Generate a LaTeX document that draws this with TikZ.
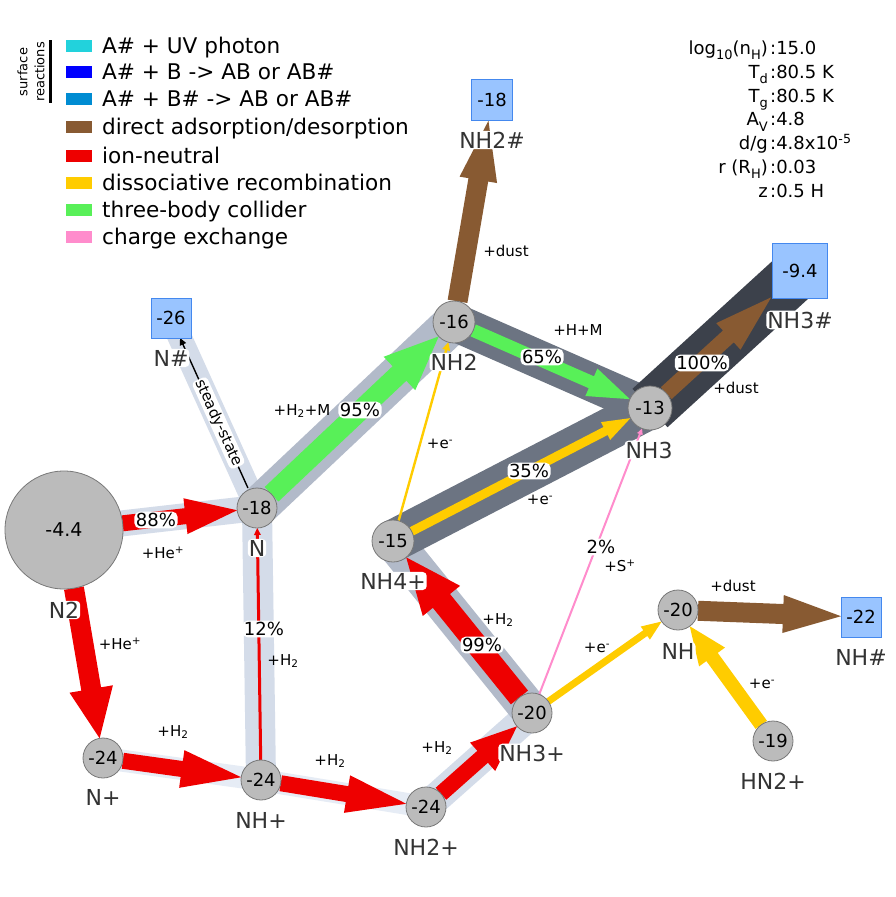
\documentclass[tikz,border=0pt]{standalone}
\usepackage{fontspec}
\setmainfont{DejaVu Sans}
\usetikzlibrary{calc}
\pgfdeclarelayer{paper}
\pgfdeclarelayer{bands}
\pgfdeclarelayer{arrows}
\pgfsetlayers{paper,bands,arrows,main}

\definecolor{cUV}{RGB}{34,210,220}
\definecolor{cAB}{RGB}{0,0,255}
\definecolor{cABs}{RGB}{0,140,210}
\definecolor{cdust}{RGB}{136,90,50}
\definecolor{cion}{RGB}{238,0,0}
\definecolor{cdr}{RGB}{255,204,0}
\definecolor{cthree}{RGB}{88,240,88}
\definecolor{cce}{RGB}{255,140,204}
\definecolor{bandA}{RGB}{230,236,245}
\definecolor{bandB}{RGB}{212,220,233}
\definecolor{bandC}{RGB}{178,186,201}
\definecolor{bandD}{RGB}{108,116,130}
\definecolor{bandE}{RGB}{60,65,75}
\definecolor{nodefill}{RGB}{187,187,187}
\definecolor{nodeline}{RGB}{120,120,120}
\definecolor{boxfill}{RGB}{153,196,255}
\definecolor{boxline}{RGB}{68,136,238}
\definecolor{labgray}{RGB}{51,51,51}

\newcommand\fsz[2]{\fontsize{#1}{#2}\selectfont}
\newcommand\lowsub[1]{\raisebox{-0.6ex}{\fontsize{13}{13}\selectfont #1}}

% from, to, start gap, end gap, shaft half width, head half width, head length, colour
\newcommand\farrow[8]{%
\fill[#8] let \p1=(#1.center), \p2=(#2.center),
  \n1={atan2(\y2-\y1,\x2-\x1)},
  \n2={veclen(\x2-\x1,\y2-\y1)},
  \n3={\n2-(#4)-(#7)},
  \n4={\n2-(#4)} in
  ({\x1+(#3)*cos(\n1)+(#5)*sin(\n1)},{\y1+(#3)*sin(\n1)-(#5)*cos(\n1)})
  -- ({\x1+\n3*cos(\n1)+(#5)*sin(\n1)},{\y1+\n3*sin(\n1)-(#5)*cos(\n1)})
  -- ({\x1+\n3*cos(\n1)+(#6)*sin(\n1)},{\y1+\n3*sin(\n1)-(#6)*cos(\n1)})
  -- ({\x1+\n4*cos(\n1)},{\y1+\n4*sin(\n1)})
  -- ({\x1+\n3*cos(\n1)-(#6)*sin(\n1)},{\y1+\n3*sin(\n1)+(#6)*cos(\n1)})
  -- ({\x1+\n3*cos(\n1)-(#5)*sin(\n1)},{\y1+\n3*sin(\n1)+(#5)*cos(\n1)})
  -- ({\x1+(#3)*cos(\n1)-(#5)*sin(\n1)},{\y1+(#3)*sin(\n1)+(#5)*cos(\n1)})
  -- cycle;}
\newcommand\fluxband[4]{\draw[draw=#3, line width=#4pt, line cap=butt] (#1.center) -- (#2.center);}

\tikzset{
  spec/.style={circle, draw=nodeline, fill=nodefill, line width=0.8pt, inner sep=0pt, font=\fsz{18}{21}},
  ice/.style={rectangle, draw=boxline, fill=boxfill, line width=1pt, inner sep=0pt, font=\fsz{18}{21}},
  splabel/.style={text=labgray, font=\fsz{22}{26}, fill=white, rounded corners=4pt, inner sep=1pt},
  pct/.style={font=\fsz{18}{22}, fill=white, rounded corners=5pt, inner sep=1.5pt},
  rxn/.style={font=\fsz{15}{18}, inner sep=1pt},
  legtext/.style={font=\fsz{21.6}{26}, anchor=base west, inner sep=0pt},
  patch/.style={minimum width=26pt, minimum height=12pt, inner sep=0pt},
  parl/.style={font=\fsz{18}{22}, anchor=base east, inner sep=0pt},
  parv/.style={font=\fsz{18}{22}, anchor=base west, inner sep=0pt},
}

\begin{document}
\begin{tikzpicture}[x=1pt,y=-1pt]
\useasboundingbox (0,0) rectangle (895,897);
\begin{pgfonlayer}{paper}
\fill[white] (0,0) rectangle (895,897);
\end{pgfonlayer}

% species
\node[spec, minimum size=118pt, font=\fsz{19}{22}] (n2) at (64,530) {-4.4};
\node[spec, minimum size=40pt] (nn) at (257,508) {-18};
\node[spec, minimum size=42pt] (nh2) at (454,322) {-16};
\node[spec, minimum size=44pt] (nh3) at (650,408) {-13};
\node[spec, minimum size=42pt] (nh4p) at (393,541) {-15};
\node[spec, minimum size=40pt] (nh3p) at (532,713) {-20};
\node[spec, minimum size=40pt] (nh) at (678,610) {-20};
\node[spec, minimum size=40pt] (hn2p) at (773,741) {-19};
\node[spec, minimum size=40pt] (np) at (103,758) {-24};
\node[spec, minimum size=40pt] (nhp) at (261,780) {-24};
\node[spec, minimum size=40pt] (nh2p) at (426,807) {-24};
\node[ice, minimum size=55pt] (nh3i) at (800,271) {-9.4};
\node[ice, minimum size=41pt] (nh2i) at (492,100) {-18};
\node[ice, minimum size=40pt] (ni) at (171,318) {-26};
\node[ice, minimum size=40pt] (nhi) at (861,617) {-22};

% flux bands
\begin{pgfonlayer}{bands}
\fluxband{ni}{nn}{bandB}{24}
\fluxband{nn}{nhp}{bandB}{30}
\fluxband{n2}{nn}{bandB}{26}
\fluxband{np}{nhp}{bandA}{22}
\fluxband{nhp}{nh2p}{bandA}{22}
\fluxband{nh2p}{nh3p}{bandB}{30}
\fluxband{nh3p}{nh4p}{bandC}{38}
\fluxband{nn}{nh2}{bandC}{40}
\fluxband{nh2}{nh3}{bandD}{38}
\fluxband{nh4p}{nh3}{bandD}{42}
\fluxband{nh3}{nh3i}{bandE}{52}
\end{pgfonlayer}

% reaction arrows
\begin{pgfonlayer}{arrows}
\farrow{n2}{nn}{59}{20}{8}{18}{52}{cion}
\farrow{n2}{np}{59}{20}{10}{22}{50}{cion}
\farrow{np}{nhp}{20}{20}{8}{19}{60}{cion}
\farrow{nhp}{nh2p}{20}{20}{8}{19}{60}{cion}
\farrow{nh2p}{nh3p}{20}{20}{8}{19}{46}{cion}
\farrow{nh3p}{nh4p}{20}{21}{11}{24}{56}{cion}
\farrow{nhp}{nn}{20}{20}{1.5}{3.5}{7}{cion}
\farrow{nn}{nh2}{20}{21}{10}{23}{54}{cthree}
\farrow{nh2}{nh3}{21}{22}{6.5}{15}{42}{cthree}
\farrow{nh4p}{nh3}{21}{22}{4.5}{10}{28}{cdr}
\farrow{nh4p}{nh2}{21}{21}{1.2}{4}{8}{cdr}
\farrow{nh3}{nh3i}{22}{39}{8}{18}{58}{cdust}
\farrow{nh2}{nh2i}{21}{21}{10}{19}{60}{cdust}
\farrow{nh3p}{nh3}{20}{22}{1}{3}{6}{cce}
\farrow{nh3p}{nh}{20}{20}{3.5}{8}{20}{cdr}
\farrow{hn2p}{nh}{20}{20}{7}{16}{38}{cdr}
\farrow{nh}{nhi}{20}{20}{10}{19}{58}{cdust}
\farrow{nn}{ni}{22}{22}{0.7}{3.5}{7}{black}
\end{pgfonlayer}

\path (ni) -- (nn) node[pos=0.56, sloped, font=\fsz{15}{18}, fill=white, rounded corners=4pt, inner sep=1pt] (ss) {steady-state};

% species names
\node[splabel] (l1) at (64,610) {N2};
\node[splabel] (l2) at (257,548) {N};
\node[splabel] (l3) at (454,362) {NH2};
\node[splabel] (l4) at (649,450) {NH3};
\node[splabel] (l5) at (800,320) {NH3\#};
\node[splabel] (l6) at (492,140) {NH2\#};
\node[splabel] (l7) at (171,358) {N\#};
\node[splabel] (l8) at (393,581) {NH4+};
\node[splabel] (l9) at (532,753) {NH3+};
\node[splabel] (l10) at (678,651) {NH};
\node[splabel] (l11) at (861,657) {NH\#};
\node[splabel] (l12) at (773,781) {HN2+};
\node[splabel] (l13) at (103,797) {N+};
\node[splabel] (l14) at (261,820) {NH+};
\node[splabel] (l15) at (426,847) {NH2+};

% percentages
\node[pct] (p1) at (156,520) {88\%};
\node[pct] (p2) at (360,410) {95\%};
\node[pct] (p3) at (542,357) {65\%};
\node[pct] (p4) at (702,363) {100\%};
\node[pct] (p5) at (529,471) {35\%};
\node[pct] (p6) at (601,547) {2\%};
\node[pct] (p7) at (482,645) {99\%};
\node[pct] (p8) at (264,629) {12\%};

% reaction partners
\node[rxn] (r1) at (163,553) {+He\textsuperscript{+}};
\node[rxn] (r2) at (120,644) {+He\textsuperscript{+}};
\node[rxn] (r3) at (302,411) {+H\textsubscript{2}+M};
\node[rxn] (r4) at (578,330) {+H+M};
\node[rxn] (r5) at (736,388) {+dust};
\node[rxn] (r6) at (540,500) {+e\textsuperscript{-}};
\node[rxn] (r7) at (440,444) {+e\textsuperscript{-}};
\node[rxn] (r8) at (506,251) {+dust};
\node[rxn] (r9) at (620,566) {+S\textsuperscript{+}};
\node[rxn] (r10) at (498,620) {+H\textsubscript{2}};
\node[rxn] (r11) at (597,648) {+e\textsuperscript{-}};
\node[rxn] (r12) at (437,748) {+H\textsubscript{2}};
\node[rxn] (r13) at (330,761) {+H\textsubscript{2}};
\node[rxn] (r14) at (173,732) {+H\textsubscript{2}};
\node[rxn] (r15) at (283,661) {+H\textsubscript{2}};
\node[rxn] (r16) at (733,586) {+dust};
\node[rxn] (r17) at (762,684) {+e\textsuperscript{-}};

% legend
\node[rotate=90, align=center, font=\fsz{13}{17}, inner sep=0pt] (sr) at (31,72) {surface\\reactions};
\draw[line width=3pt] (50,40) -- (50,103);
\node[patch, fill=cUV] (k1) at (79,45.5) {};
\node[patch, fill=cAB] (k2) at (79,72.3) {};
\node[patch, fill=cABs] (k3) at (79,99.2) {};
\node[patch, fill=cdust] (k4) at (79,126.7) {};
\node[patch, fill=cion] (k5) at (79,155.8) {};
\node[patch, fill=cdr] (k6) at (79,182.5) {};
\node[patch, fill=cthree] (k7) at (79,210) {};
\node[patch, fill=cce] (k8) at (79,237) {};
\node[legtext] (t1) at (102,53) {A\# + UV photon};
\node[legtext] (t2) at (102,79.8) {A\# + B -> AB or AB\#};
\node[legtext] (t3) at (102,106.7) {A\# + B\# -> AB or AB\#};
\node[legtext] (t4) at (102,134.2) {direct adsorption/desorption};
\node[legtext] (t5) at (102,163.3) {ion-neutral};
\node[legtext] (t6) at (102,190) {dissociative recombination};
\node[legtext] (t7) at (102,217.5) {three-body collider};
\node[legtext] (t8) at (102,244.5) {charge exchange};

% parameters
\node[parl] at (768,54) {log\lowsub{10}(n\lowsub{H})};
\node[parv] at (770,54) {:15.0};
\node[parl] at (768,78) {T\lowsub{d}};
\node[parv] at (770,78) {:80.5 K};
\node[parl] at (768,102) {T\lowsub{g}};
\node[parv] at (770,102) {:80.5 K};
\node[parl] at (768,125.5) {A\lowsub{V}};
\node[parv] at (770,125.5) {:4.8};
\node[parl] at (768,149.5) {d/g};
\node[parv] at (770,149.5) {:4.8x10\textsuperscript{-5}};
\node[parl] at (768,173) {r (R\lowsub{H})};
\node[parv] at (770,173) {:0.03};
\node[parl] at (768,197) {z};
\node[parv] at (770,197) {:0.5 H};
\end{tikzpicture}
\end{document}
